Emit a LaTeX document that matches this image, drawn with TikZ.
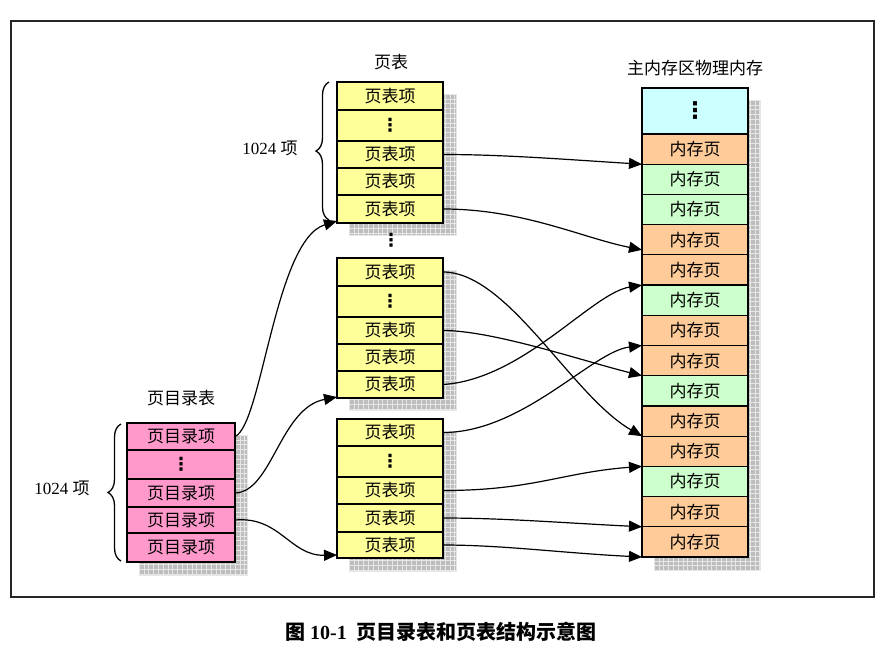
\documentclass[tikz,border=0pt]{standalone}
\usepackage{fontspec}
\setmainfont{Liberation Serif}
\newfontfamily\cjk{Noto Sans CJK SC}
\newfontfamily\dvs{DejaVu Sans}
\usetikzlibrary{arrows.meta,decorations.pathreplacing}
\definecolor{ptyellow}{HTML}{FFFF99}
\definecolor{pdpink}{HTML}{FF99CC}
\definecolor{memc}{HTML}{CCFFFF}
\definecolor{memo}{HTML}{FFCC99}
\definecolor{memg}{HTML}{CCFFCC}
\definecolor{shadowfill}{HTML}{BDBDBD}
\definecolor{gridc}{HTML}{E6E6E6}
\tikzset{
  cellbox/.style={draw, line width=1.2pt, minimum width=106pt, inner sep=0pt, outer sep=0pt,
    anchor=north west, font=\cjk\fontsize{17pt}{17pt}\selectfont},
  boxedge/.style={line width=2.6pt},
  conn/.style={line width=1.2pt, -{Triangle[length=13pt,width=11pt]}},
  lbl/.style={inner sep=0pt, font=\cjk\fontsize{17pt}{17pt}\selectfont},
  vdotsf/.style={font=\dvs\bfseries\fontsize{18pt}{18pt}\selectfont},
  bracel/.style={decorate, decoration={brace, amplitude=13pt}, line width=1.3pt},
}
\newcommand\shadowrect[4]{%
  \begin{scope}
    \clip (#1,#2) rectangle (#3,#4);
    \fill[shadowfill] (#1,#2) rectangle (#3,#4);
    \foreach \i in {0,...,100}{
      \draw[gridc, line width=0.5pt] ({#1+\i*4.8},#2) -- ({#1+\i*4.8},#4);
      \draw[gridc, line width=0.5pt] (#1,{#2+\i*4.8}) -- (#3,{#2+\i*4.8});
    }
  \end{scope}
  \draw[gridc, line width=0.8pt] (#1,#2) rectangle (#3,#4);}
\begin{document}
\begin{tikzpicture}[x=1pt,y=-1pt]
\useasboundingbox (0,0) rectangle (880,649);
\draw[line width=2pt, black!85] (11,21) rectangle (874,597);

% shadows
\shadowrect{349}{94}{456}{235}
\shadowrect{349}{270}{456}{410}
\shadowrect{349}{431}{456}{571}
\shadowrect{139}{435}{247}{575}
\shadowrect{654}{100}{760}{570}

% page table 1
\node[cellbox, fill=ptyellow, minimum height=28pt] (t1r1) at (337,82) {页表项};
\node[cellbox, fill=ptyellow, minimum height=31pt, vdotsf] (t1r2) at (337,110) {⋮};
\node[cellbox, fill=ptyellow, minimum height=27pt] (t1r3) at (337,141) {页表项};
\node[cellbox, fill=ptyellow, minimum height=27pt] (t1r4) at (337,168) {页表项};
\node[cellbox, fill=ptyellow, minimum height=28pt] (t1r5) at (337,195) {页表项};
\draw[boxedge] (t1r1.north west) rectangle (t1r5.south east);

% page table 2
\node[cellbox, fill=ptyellow, minimum height=28pt] (t2r1) at (337,258) {页表项};
\node[cellbox, fill=ptyellow, minimum height=31pt, vdotsf] (t2r2) at (337,286) {⋮};
\node[cellbox, fill=ptyellow, minimum height=27pt] (t2r3) at (337,317) {页表项};
\node[cellbox, fill=ptyellow, minimum height=27pt] (t2r4) at (337,344) {页表项};
\node[cellbox, fill=ptyellow, minimum height=27pt] (t2r5) at (337,371) {页表项};
\draw[boxedge] (t2r1.north west) rectangle (t2r5.south east);

% page table 3
\node[cellbox, fill=ptyellow, minimum height=27pt] (t3r1) at (337,419) {页表项};
\node[cellbox, fill=ptyellow, minimum height=31pt, vdotsf] (t3r2) at (337,446) {⋮};
\node[cellbox, fill=ptyellow, minimum height=27pt] (t3r3) at (337,477) {页表项};
\node[cellbox, fill=ptyellow, minimum height=28pt] (t3r4) at (337,504) {页表项};
\node[cellbox, fill=ptyellow, minimum height=26pt] (t3r5) at (337,532) {页表项};
\draw[boxedge] (t3r1.north west) rectangle (t3r5.south east);

% page directory
\node[cellbox, fill=pdpink, minimum width=108pt, minimum height=27pt] (d1) at (127,423) {页目录项};
\node[cellbox, fill=pdpink, minimum width=108pt, minimum height=29pt, vdotsf] (d2) at (127,450) {⋮};
\node[cellbox, fill=pdpink, minimum width=108pt, minimum height=28pt] (d3) at (127,479) {页目录项};
\node[cellbox, fill=pdpink, minimum width=108pt, minimum height=26pt] (d4) at (127,507) {页目录项};
\node[cellbox, fill=pdpink, minimum width=108pt, minimum height=29pt] (d5) at (127,533) {页目录项};
\draw[boxedge] (d1.north west) rectangle (d5.south east);

% memory
\node[cellbox, fill=memc, minimum height=46pt, font=\dvs\bfseries\fontsize{23pt}{23pt}\selectfont] (m0) at (642,88) {⋮};
\foreach \i/\c in {1/memo,2/memg,3/memg,4/memo,5/memo,6/memg,7/memo,8/memo,9/memg,10/memo,11/memo,12/memg,13/memo,14/memo}
  \node[cellbox, fill=\c, minimum height=30.214pt] (m\i) at (642,{134+(\i-1)*30.214}) {内存页};
\draw[boxedge] (m0.north west) rectangle (m14.south east);

% labels
\node[lbl] (lpt) at (391,62) {页表};
\node[lbl] (lmem) at (695,68) {主内存区物理内存};
\node[lbl] (lpd) at (181,398) {页目录表};
\node[lbl, font=\fontsize{17pt}{17pt}\selectfont] (n1) at (270,148) {1024 {\cjk 项}};
\node[lbl, font=\fontsize{17pt}{17pt}\selectfont] (n2) at (62,488) {1024 {\cjk 项}};
\node[inner sep=0pt, vdotsf] (gap) at (391,240) {⋮};
\node[inner sep=0pt, font=\bfseries\fontsize{20pt}{20pt}\selectfont] (cap) at (441,632)
  {{\cjk\bfseries 图}\ 10-1\ \ {\cjk\bfseries 页目录表和页表结构示意图}};

% braces
\draw[bracel] (329,220) -- (329,82);
\draw[bracel] (121,561) -- (121,424);

% directory -> page tables
\draw[conn] (d1.east) .. controls (262,425) and (275,240) .. ([yshift=2pt]t1r5.south west);
\draw[conn] (d3.east) .. controls (272,492) and (280,408) .. ([yshift=1pt]t2r5.south west);
\draw[conn] (d4.east) .. controls (280,516) and (290,556) .. ([yshift=3pt]t3r5.south west);

% page tables -> memory
\draw[conn] (t1r3.east) .. controls +(60,0) and +(-80,-5) .. (m1.south west);
\draw[conn] (t1r5.east) .. controls +(80,0) and +(-60,-12) .. ([yshift=5pt]m4.south west);
\draw[conn] (t2r1.east) .. controls +(65,0) and +(-70,-40) .. (m10.south west);
\draw[conn] (t2r3.east) .. controls +(50,0) and +(-60,-15) .. (m8.south west);
\draw[conn] (t2r5.east) .. controls +(80,-5) and +(-50,8) .. (m5.south west);
\draw[conn] (t3r1.east) .. controls +(80,0) and +(-50,6) .. (m7.south west);
\draw[conn] (t3r3.east) .. controls +(90,0) and +(-80,6) .. (m11.south west);
\draw[conn] (t3r4.east) .. controls +(60,0) and +(-80,-4) .. (m13.south west);
\draw[conn] (t3r5.east) .. controls +(60,0) and +(-80,-4) .. (m14.south west);
\end{tikzpicture}
\end{document}
